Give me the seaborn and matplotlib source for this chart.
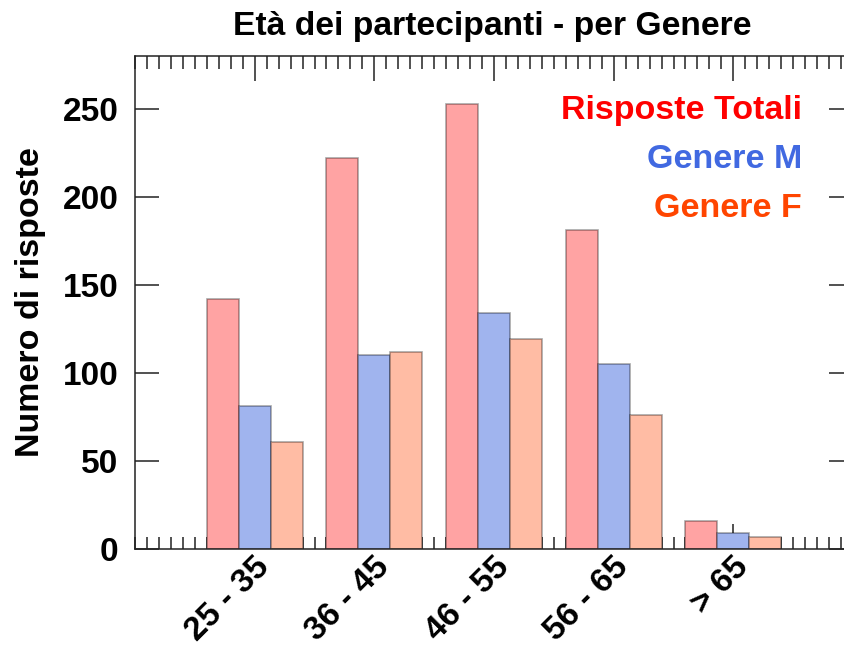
import pandas as pd
import seaborn as sns
import matplotlib.pyplot as plt
from matplotlib.ticker import MultipleLocator
from matplotlib.transforms import ScaledTranslation

# Dati
fasce = ['25 - 35', '36 - 45', '46 - 55', '56 - 65', '> 65']
totali = [142, 222, 253, 181, 16]
genere_m = [81, 110, 134, 105, 9]
genere_f = [61, 112, 119, 76, 7]

serie = ['Risposte Totali', 'Genere M', 'Genere F']
colori_barre = ['#ffa3a3', '#a0b4ee', '#ffbca4']
colori_testo = ['#ff0000', '#4169e1', '#ff4500']

# Formato lungo per seaborn
df = pd.DataFrame({
    'fascia': fasce * 3,
    'serie': [serie[0]] * 5 + [serie[1]] * 5 + [serie[2]] * 5,
    'valore': totali + genere_m + genere_f,
})

sns.set_style('ticks')
plt.rcParams['font.family'] = ['Liberation Sans', 'DejaVu Sans']
plt.rcParams['font.weight'] = 'bold'
plt.rcParams['text.color'] = 'black'
plt.rcParams['axes.labelcolor'] = 'black'
plt.rcParams['xtick.color'] = 'black'
plt.rcParams['ytick.color'] = 'black'

fig = plt.figure(figsize=(8.45, 6.5), dpi=100)
ax = fig.add_axes([0.1598, 0.1554, 0.8497, 0.7585])

sns.barplot(data=df, x='fascia', y='valore', hue='serie', hue_order=serie,
            palette=colori_barre, saturation=1, width=0.8, legend=False, ax=ax)
for p in ax.patches:
    p.set_edgecolor((0, 0, 0, 0.35))
    p.set_linewidth(1.2)

ax.set_xlim(-1, 5)
ax.set_ylim(0, 280)
ax.set_yticks([0, 50, 100, 150, 200, 250])
ax.xaxis.set_minor_locator(MultipleLocator(0.1))

for s in ax.spines.values():
    s.set_visible(True)
    s.set_linewidth(1.1)
    s.set_color('#222222')

ax.tick_params(axis='y', which='major', direction='in', length=17, width=1.1,
               left=True, right=True, labelsize=24, pad=12, color='#222222',
               labelcolor='black')
ax.tick_params(axis='x', which='major', direction='in', length=18, width=1.1,
               bottom=True, top=True, labelsize=24, pad=8, color='#222222',
               labelcolor='black')
ax.tick_params(axis='x', which='minor', direction='in', length=9, width=1.1,
               bottom=True, top=True, color='#222222')

# etichette ruotate, spostate un po' a destra
sposta = ScaledTranslation(10 / 100, -2 / 100, fig.dpi_scale_trans)
for lab in ax.get_xticklabels():
    lab.set_rotation(45)
    lab.set_ha('right')
    lab.set_va('center')
    lab.set_rotation_mode('anchor')
    lab.set_transform(lab.get_transform() + sposta)

ax.set_xlabel('')
ax.set_ylabel('Numero di risposte', fontsize=24.5, fontweight='bold',
              labelpad=12, color='black')

# Legenda solo testo, colorata
ypos = [0.890, 0.791, 0.690]
for testo, col, y in zip(serie, colori_testo, ypos):
    ax.text(0.929, y, testo, transform=ax.transAxes, ha='right', va='center',
            fontsize=24.5, fontweight='bold', color=col)

fig.text(0.583, 0.946, 'Età dei partecipanti - per Genere', ha='center', va='baseline',
         fontsize=24.2, fontweight='bold', color='black')

fig.savefig('out.png', dpi=100)
